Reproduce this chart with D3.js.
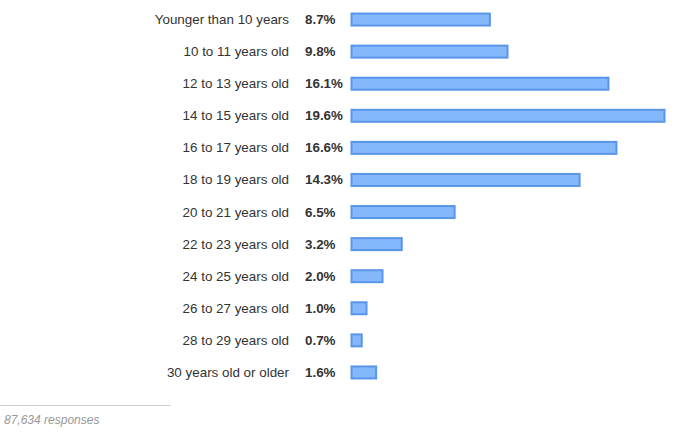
<!DOCTYPE html>
<html>
<head>
  <meta charset="utf-8">
  <title>Age responses</title>
  <style>
    body { margin: 0; background: #fff; }
  </style>
</head>
<body>
  <div id="chart"></div>
<script src="https://cdn.jsdelivr.net/npm/d3@7"></script>
<script>
var categories = ["Younger than 10 years", "10 to 11 years old", "12 to 13 years old",
                  "14 to 15 years old", "16 to 17 years old", "18 to 19 years old",
                  "20 to 21 years old", "22 to 23 years old", "24 to 25 years old",
                  "26 to 27 years old", "28 to 29 years old", "30 years old or older"];
var shares = [8.7, 9.8, 16.1, 19.6, 16.6, 14.3, 6.5, 3.2, 2.0, 1.0, 0.7, 1.6];
var responses = 87634;

var w = 685, h = 432;
var barLeft = 351, barMax = 665;
var barH = 12;

var svg = d3.select("#chart").append("svg")
  .attr("width", w)
  .attr("height", h)
  .style("font-family", "'Liberation Sans', Arial, sans-serif");

var x = d3.scaleLinear().domain([0, d3.max(shares)]).range([barLeft, barMax]);
var y = d3.scaleBand().domain(categories).range([3.5, 388.5]).padding(0);

var rows = svg.selectAll("g.row")
  .data(categories)
  .enter()
  .append("g")
  .attr("class", "row")
  .attr("transform", function (d) {
    return "translate(0," + (y(d) + y.bandwidth() / 2) + ")";
  });

rows.append("text")
  .text(function (d) { return d; })
  .attr("x", 289)
  .attr("y", 4.5)
  .attr("text-anchor", "end")
  .attr("font-size", "13.4px")
  .attr("fill", "#333");

rows.append("text")
  .text(function (d, i) { return shares[i].toFixed(1) + "%"; })
  .attr("x", 305)
  .attr("y", 4.5)
  .attr("font-size", "13.4px")
  .attr("font-weight", "bold")
  .attr("fill", "#333");

rows.append("rect")
  .attr("x", x(0) + 0.5)
  .attr("y", -barH / 2)
  .attr("width", function (d, i) { return x(shares[i]) - x(0) - 1; })
  .attr("height", barH)
  .attr("fill", "#84b8fb")
  .attr("stroke", "#5a95ea")
  .attr("stroke-width", 2);

// footer
svg.append("line")
  .attr("x1", 0).attr("x2", 171)
  .attr("y1", 405.5).attr("y2", 405.5)
  .attr("stroke", "#d0d0d0")
  .attr("stroke-width", 1);

svg.append("text")
  .text(d3.format(",")(responses) + " responses")
  .attr("x", 4)
  .attr("y", 424)
  .attr("font-size", "12px")
  .attr("font-style", "italic")
  .attr("fill", "#999");
</script>
</body>
</html>
